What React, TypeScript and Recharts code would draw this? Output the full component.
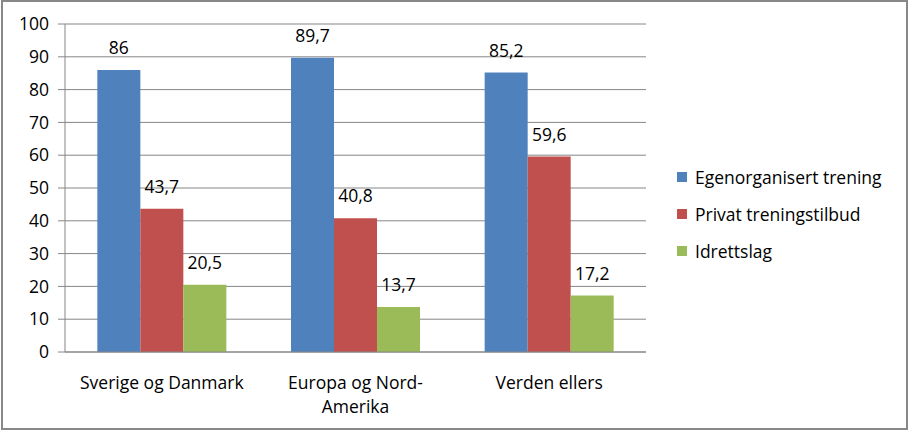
import { BarChart, Bar, XAxis, YAxis, CartesianGrid, Legend, LabelList } from 'recharts';

const categories = ['Sverige og Danmark', 'Europa og Nord-\nAmerika', 'Verden ellers'];
const egenorganisert = [86, 89.7, 85.2];
const privat = [43.7, 40.8, 59.6];
const idrettslag = [20.5, 13.7, 17.2];
const yTicks = [0, 10, 20, 30, 40, 50, 60, 70, 80, 90, 100];

const SERIES = [
  { key: 'egen', name: 'Egenorganisert trening', color: '#4F81BD' },
  { key: 'privat', name: 'Privat treningstilbud', color: '#C0504D' },
  { key: 'idrett', name: 'Idrettslag', color: '#9BBB59' },
];

const data = categories.map((c, i) => ({
  category: c,
  egen: egenorganisert[i],
  privat: privat[i],
  idrett: idrettslag[i],
}));

const FONT = '"Open Sans", sans-serif';
const FS = 17.5;
const GRID = '#868686';

const fmt = (v: number) => String(v).replace('.', ',');

function CategoryTick({ x, y, payload }: any) {
  const lines = String(payload.value).split('\n');
  return (
    <text x={x} y={y} textAnchor="middle" fontSize={FS} fontFamily={FONT} fill="#000">
      {lines.map((l, i) => (
        <tspan key={i} x={x} dy={i === 0 ? 29 : 24}>
          {l}
        </tspan>
      ))}
    </text>
  );
}

function LegendContent() {
  return (
    <div style={{ fontFamily: FONT, fontSize: FS }}>
      {SERIES.map((s) => (
        <div key={s.key} style={{ display: 'flex', alignItems: 'center', height: 37 }}>
          <span style={{ width: 10, height: 10, background: s.color, marginRight: 8 }} />
          <span>{s.name}</span>
        </div>
      ))}
    </div>
  );
}

export default function App() {
  return (
    <div style={{ position: 'absolute', left: 0, top: 0, width: 909, height: 431, background: '#fff' }}>
      <style>{'body{margin:0}'}</style>
      <BarChart
        width={909}
        height={431}
        data={data}
        margin={{ top: 24, right: 263, left: 0, bottom: 0 }}
        barCategoryGap="16.7%"
        barGap={0}
      >
        <CartesianGrid vertical={false} stroke={GRID} />
        <XAxis
          xAxisId="edges"
          type="number"
          domain={[0, 3]}
          ticks={[0, 1, 2, 3]}
          tick={false}
          tickSize={6}
          tickLine={{ stroke: GRID }}
          axisLine={false}
          height={0}
        />
        <XAxis
          dataKey="category"
          interval={0}
          height={79}
          axisLine={{ stroke: GRID }}
          tickLine={false}
          tick={<CategoryTick />}
        />
        <YAxis
          width={65}
          domain={[0, 100]}
          ticks={yTicks}
          interval={0}
          tickSize={7}
          tickMargin={9}
          axisLine={{ stroke: GRID }}
          tickLine={{ stroke: GRID }}
          tick={{ fontSize: FS, fill: '#000', fontFamily: FONT }}
        />
        <Legend
          layout="vertical"
          align="center"
          verticalAlign="middle"
          content={<LegendContent />}
          wrapperStyle={{ left: 677, top: 158, width: 230 }}
        />
        {SERIES.map((s) => (
          <Bar key={s.key} dataKey={s.key} name={s.name} fill={s.color} isAnimationActive={false}>
            <LabelList
              dataKey={s.key}
              position="top"
              offset={16}
              formatter={(v: any) => fmt(v)}
              style={{ fontSize: FS, fill: '#000', fontFamily: FONT }}
            />
          </Bar>
        ))}
      </BarChart>
      <div
        style={{
          position: 'absolute',
          left: 1,
          top: 0,
          width: 907,
          height: 430,
          border: '2px solid #888',
          boxSizing: 'border-box',
          pointerEvents: 'none',
        }}
      />
    </div>
  );
}
